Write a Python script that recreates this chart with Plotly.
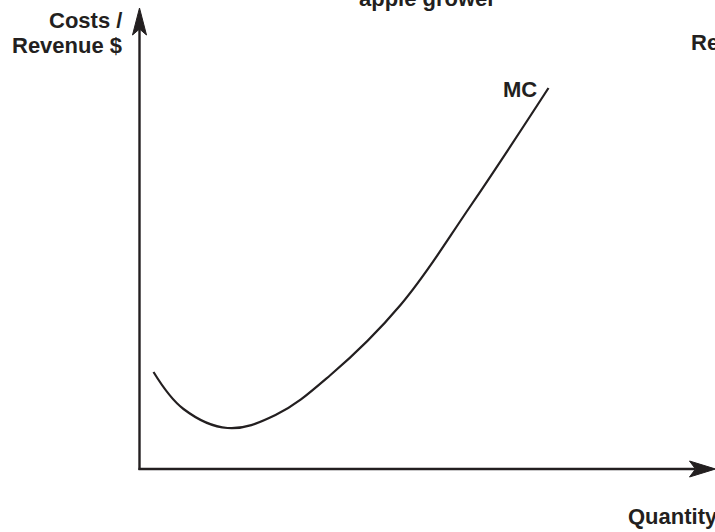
import plotly.graph_objects as go

# MC curve (quantity, cost)
quantity = [1.4, 4.4, 8.8, 13.6, 19.1, 26.1, 33.1, 40.9]
marginal_cost = [9.7, 6.0, 4.1, 5.4, 9.4, 16.4, 26.3, 38.1]

curve_label = "MC"
x_label = "Quantity"
y_label_lines = ["Costs /", "Revenue $"]
title_text = "apple grower"
right_label = "Revenue"

ink = "#231f20"
font = dict(family="Liberation Sans, Arial, sans-serif", size=22, color=ink)

fig = go.Figure()
fig.add_trace(go.Scatter(
    x=quantity, y=marginal_cost, mode="lines",
    line=dict(color=ink, width=2.2, shape="spline", smoothing=1.1),
    hoverinfo="skip", showlegend=False,
))

# axes lines
fig.add_shape(type="line", x0=-0.1, y0=0, x1=55.6, y1=0, xref="x", yref="y",
              line=dict(color=ink, width=2.4))
fig.add_shape(type="line", x0=0, y0=-0.1, x1=0, y1=44.2, xref="x", yref="y",
              line=dict(color=ink, width=2.4))
# arrowheads
fig.add_shape(type="path", xref="x", yref="y",
              path="M 57.6 0 L 55.0 0.8 L 55.6 0 L 55.0 -0.8 Z",
              fillcolor=ink, line=dict(color=ink, width=1))
fig.add_shape(type="path", xref="x", yref="y",
              path="M 0 46.1 L -0.7 43.4 L 0 44.0 L 0.7 43.4 Z",
              fillcolor=ink, line=dict(color=ink, width=1))

ann = [
    dict(text="<b>%s</b>" % y_label_lines[0], x=-1.6, y=44.9, xanchor="right", yanchor="middle"),
    dict(text="<b>%s</b>" % y_label_lines[1], x=-1.6, y=42.4, xanchor="right", yanchor="middle"),
    dict(text="<b>%s</b>" % right_label, x=54.9, y=42.7, xanchor="left", yanchor="middle"),
    dict(text="<b>%s</b>" % curve_label, x=39.9, y=38.0, xanchor="right", yanchor="middle"),
    dict(text="<b>%s</b>" % x_label, x=48.6, y=-4.7, xanchor="left", yanchor="middle"),
]
for a in ann:
    fig.add_annotation(xref="x", yref="y", showarrow=False, font=font, **a)

# title, mostly above the visible page
fig.add_annotation(xref="x", yref="paper", x=28.8, y=1.002, xanchor="center", yanchor="middle",
                   text="<b>%s</b>" % title_text, showarrow=False, font=font)

fig.update_layout(
    width=715, height=532,
    margin=dict(l=0, r=0, t=0, b=0),
    paper_bgcolor="white", plot_bgcolor="white",
    xaxis=dict(range=[-13.95, 57.55], visible=False, fixedrange=True),
    yaxis=dict(range=[-6.3, 46.9], visible=False, fixedrange=True),
    showlegend=False,
)

fig.write_html("out.html", config={"displayModeBar": False},
               post_script="document.body.style.margin='0px';")
